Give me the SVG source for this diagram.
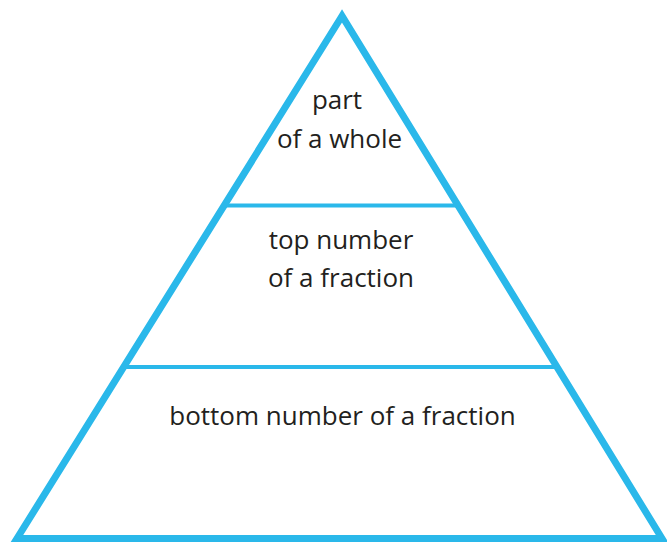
<svg xmlns="http://www.w3.org/2000/svg" width="667" height="542" viewBox="0 0 667 542">
<style>
.edge{fill:none;stroke:#2ab8ea;stroke-width:7;stroke-linejoin:miter;stroke-miterlimit:10}
.div{stroke:#2ab8ea;stroke-width:4}
.lbl{font-family:"Open Sans","Liberation Sans",sans-serif;font-size:26px;fill:#231f20;text-anchor:middle}
</style>
<rect width="667" height="542" fill="#ffffff"/>
<g id="connectors">
<polygon class="edge" points="342,16 17,538.5 662,538.5"/>
<line class="div" x1="226" y1="205.5" x2="459" y2="205.5"/>
<line class="div" x1="126" y1="367" x2="558" y2="367"/>
</g>
<g id="node-top">
<text class="lbl" x="337" y="109">part</text>
<text class="lbl" x="339.5" y="147.5">of a whole</text>
</g>
<g id="node-middle">
<text class="lbl" x="341" y="249">top number</text>
<text class="lbl" x="341" y="287">of a fraction</text>
</g>
<g id="node-bottom">
<text class="lbl" x="342.5" y="425">bottom number of a fraction</text>
</g>
</svg>
